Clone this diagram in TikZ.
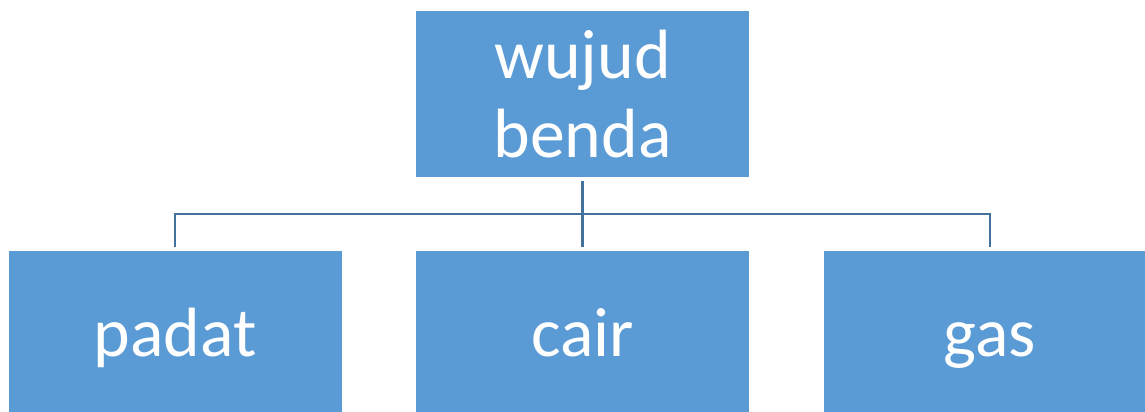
\documentclass[tikz,border=0pt]{standalone}
\usepackage{fontspec}
\setmainfont{Carlito}
\usepackage{xcolor}
\usepackage{tikz}
\definecolor{boxblue}{HTML}{5B9BD5}
\definecolor{lineblue}{HTML}{41719C}

\begin{document}
\begin{tikzpicture}[x=0.02cm, y=-0.02cm, every node/.style={rectangle, fill=boxblue, text=white, minimum width=333*0.02cm, minimum height=166*0.02cm, align=center, inner sep=0pt, font=\fontsize{39.7}{44.8}\selectfont}, leaf/.style={text height=26pt, text depth=0pt}]
	\useasboundingbox (0,0) rectangle (1145,412);
	% Nodes
	\node (wujud) at (582.5,94) {wujud\\benda};
	\node[leaf] (padat) at (175,334) {padat};
	\node[leaf] (cair) at (582.5,334) {cair};
	\node[leaf] (gas) at (990,334) {gas};
	\coordinate (split) at (582.5,214);
	% Edges
	\draw[lineblue, line width=1.2pt, shorten <=2pt] (wujud) -- (split);
	\draw[lineblue, line width=1.2pt, shorten >=2pt] (split) -| (padat);
	\draw[lineblue, line width=1.2pt, shorten >=2pt] (split) -- (cair);
	\draw[lineblue, line width=1.2pt, shorten >=2pt] (split) -| (gas);
\end{tikzpicture}
\end{document}
